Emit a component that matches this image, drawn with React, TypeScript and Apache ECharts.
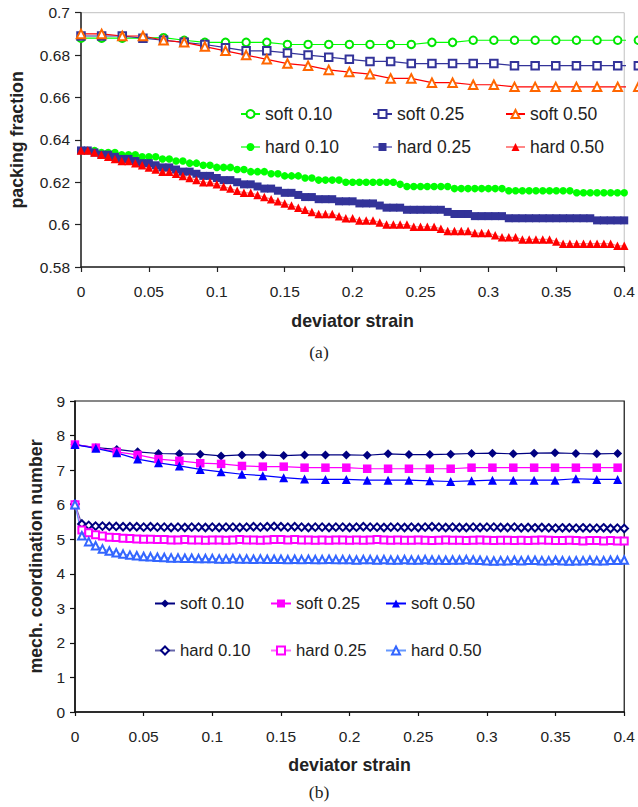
import React, { useEffect, useRef } from "react";
import * as echarts from "echarts";

// ---------- shared x grids ----------
const softX = [0, 0.0152, 0.0304, 0.0456, 0.0608, 0.076, 0.0912, 0.1064, 0.1216, 0.1368, 0.152, 0.1672, 0.1824, 0.1976, 0.2128, 0.228, 0.2432, 0.2584, 0.2736, 0.2888, 0.304, 0.3192, 0.3344, 0.3496, 0.3648, 0.38, 0.3952, 0.4104];
const hardX = [
  0, 0.005, 0.01, 0.015, 0.02, 0.025, 0.03, 0.035, 0.04, 0.045,
  0.05, 0.055, 0.06, 0.065, 0.07, 0.075, 0.08, 0.085, 0.09, 0.095,
  0.1, 0.105, 0.11, 0.115, 0.12, 0.125, 0.13, 0.135, 0.14, 0.145,
  0.15, 0.155, 0.16, 0.165, 0.17, 0.175, 0.18, 0.185, 0.19, 0.195,
  0.2, 0.205, 0.21, 0.215, 0.22, 0.225, 0.23, 0.235, 0.24, 0.245,
  0.25, 0.255, 0.26, 0.265, 0.27, 0.275, 0.28, 0.285, 0.29, 0.295,
  0.3, 0.305, 0.31, 0.315, 0.32, 0.325, 0.33, 0.335, 0.34, 0.345,
  0.35, 0.355, 0.36, 0.365, 0.37, 0.375, 0.38, 0.385, 0.39, 0.395,
  0.4,
];

// ---------- chart (a): packing fraction ----------
const soft10a = [0.688, 0.688, 0.688, 0.688, 0.6882, 0.687, 0.686, 0.686, 0.686, 0.686, 0.685, 0.685, 0.685, 0.685, 0.685, 0.685, 0.685, 0.686, 0.686, 0.687, 0.687, 0.687, 0.687, 0.687, 0.687, 0.687, 0.687, 0.687];
const soft25a = [0.689, 0.689, 0.689, 0.688, 0.687, 0.686, 0.685, 0.6835, 0.682, 0.682, 0.681, 0.68, 0.679, 0.678, 0.677, 0.677, 0.676, 0.676, 0.676, 0.676, 0.676, 0.675, 0.675, 0.675, 0.675, 0.675, 0.675, 0.675];
const soft50a = [0.69, 0.69, 0.689, 0.689, 0.687, 0.686, 0.684, 0.682, 0.68, 0.678, 0.676, 0.675, 0.673, 0.672, 0.671, 0.669, 0.669, 0.667, 0.667, 0.666, 0.666, 0.665, 0.665, 0.665, 0.665, 0.665, 0.665, 0.665];
const hard10a = [
  0.635, 0.635, 0.635, 0.634, 0.634, 0.634, 0.633, 0.633, 0.633, 0.632,
  0.632, 0.632, 0.631, 0.631, 0.63, 0.63, 0.629, 0.629, 0.628, 0.628,
  0.627, 0.627, 0.627, 0.626, 0.626, 0.625, 0.625, 0.625, 0.624, 0.624,
  0.623, 0.623, 0.623, 0.622, 0.622, 0.621, 0.621, 0.621, 0.621, 0.62,
  0.62, 0.62, 0.62, 0.62, 0.62, 0.62, 0.62, 0.619, 0.618, 0.618,
  0.618, 0.618, 0.618, 0.618, 0.618, 0.617, 0.617, 0.617, 0.617, 0.617,
  0.617, 0.617, 0.617, 0.616, 0.616, 0.616, 0.616, 0.616, 0.616, 0.616,
  0.616, 0.616, 0.616, 0.615, 0.615, 0.615, 0.615, 0.615, 0.615, 0.615,
  0.615,
];
const hard25a = [
  0.635, 0.635, 0.634, 0.633, 0.633, 0.632, 0.631, 0.631, 0.63, 0.629,
  0.629, 0.628, 0.627, 0.627, 0.626, 0.625, 0.625, 0.624, 0.623, 0.623,
  0.622, 0.621, 0.621, 0.62, 0.619, 0.619, 0.618, 0.617, 0.617, 0.616,
  0.615, 0.615, 0.614, 0.613, 0.613, 0.612, 0.612, 0.612, 0.611, 0.611,
  0.611, 0.61, 0.61, 0.61, 0.609, 0.608, 0.608, 0.608, 0.607, 0.607,
  0.607, 0.607, 0.607, 0.607, 0.606, 0.605, 0.605, 0.605, 0.604, 0.604,
  0.604, 0.604, 0.604, 0.603, 0.603, 0.603, 0.603, 0.603, 0.603, 0.603,
  0.603, 0.603, 0.603, 0.603, 0.603, 0.603, 0.602, 0.602, 0.602, 0.602,
  0.602,
];
const hard50a = [
  0.635, 0.635, 0.634, 0.633, 0.632, 0.631, 0.63, 0.63, 0.629, 0.628,
  0.627, 0.626, 0.625, 0.625, 0.624, 0.623, 0.622, 0.621, 0.62, 0.62,
  0.619, 0.618, 0.617, 0.616, 0.615, 0.615, 0.614, 0.613, 0.612, 0.611,
  0.61, 0.609, 0.608, 0.607, 0.606, 0.605, 0.605, 0.605, 0.604, 0.603,
  0.603, 0.602, 0.602, 0.602, 0.601, 0.6, 0.6, 0.6, 0.6, 0.599,
  0.599, 0.599, 0.599, 0.598, 0.597, 0.597, 0.597, 0.597, 0.596, 0.596,
  0.596, 0.595, 0.594, 0.594, 0.594, 0.593, 0.593, 0.593, 0.593, 0.593,
  0.592, 0.591, 0.591, 0.591, 0.591, 0.591, 0.591, 0.591, 0.591, 0.59,
  0.59,
];

// ---------- chart (b): mech. coordination number ----------
const soft10b = [7.74, 7.65, 7.6, 7.53, 7.48, 7.47, 7.46, 7.41, 7.44, 7.44, 7.42, 7.44, 7.44, 7.44, 7.43, 7.47, 7.45, 7.45, 7.46, 7.48, 7.49, 7.47, 7.49, 7.5, 7.48, 7.47, 7.48];
const soft25b = [7.74, 7.65, 7.53, 7.44, 7.32, 7.27, 7.2, 7.18, 7.12, 7.1, 7.1, 7.07, 7.07, 7.07, 7.04, 7.04, 7.04, 7.04, 7.04, 7.07, 7.07, 7.07, 7.07, 7.07, 7.07, 7.07, 7.07];
const soft50b = [7.74, 7.63, 7.5, 7.32, 7.21, 7.12, 7.02, 6.95, 6.88, 6.84, 6.78, 6.74, 6.73, 6.73, 6.71, 6.71, 6.71, 6.69, 6.67, 6.69, 6.71, 6.71, 6.71, 6.71, 6.75, 6.73, 6.73];
const hard10b = [
  6.02, 5.44, 5.4, 5.38, 5.38, 5.37, 5.37, 5.36, 5.36, 5.36,
  5.35, 5.36, 5.35, 5.35, 5.34, 5.35, 5.34, 5.35, 5.35, 5.34,
  5.35, 5.34, 5.35, 5.35, 5.34, 5.35, 5.36, 5.35, 5.36, 5.37,
  5.36, 5.35, 5.36, 5.35, 5.34, 5.35, 5.35, 5.34, 5.35, 5.35,
  5.34, 5.35, 5.36, 5.35, 5.35, 5.34, 5.35, 5.35, 5.34, 5.35,
  5.34, 5.35, 5.36, 5.35, 5.34, 5.35, 5.34, 5.34, 5.35, 5.34,
  5.35, 5.35, 5.34, 5.34, 5.35, 5.33, 5.34, 5.33, 5.34, 5.33,
  5.32, 5.33, 5.33, 5.32, 5.33, 5.32, 5.32, 5.33, 5.31, 5.32,
  5.31,
];
const hard25b = [
  6.0, 5.27, 5.19, 5.13, 5.09, 5.06, 5.05, 5.03, 5.02, 5.01,
  5.0, 5.0, 4.99, 4.99, 4.98, 4.98, 4.99, 4.98, 4.98, 4.97,
  4.98, 4.98, 4.97, 4.98, 4.99, 4.98, 4.98, 4.97, 4.98, 4.99,
  4.99, 4.98, 4.99, 4.98, 4.98, 4.97, 4.98, 4.97, 4.98, 4.98,
  4.97, 4.98, 4.97, 4.98, 4.99, 4.98, 4.97, 4.98, 4.97, 4.97,
  4.98, 4.97, 4.96, 4.97, 4.98, 4.97, 4.97, 4.96, 4.97, 4.98,
  4.97, 4.96, 4.97, 4.97, 4.96, 4.97, 4.96, 4.97, 4.98, 4.97,
  4.96, 4.96, 4.97, 4.96, 4.95, 4.96, 4.96, 4.95, 4.96, 4.95,
  4.95,
];
const hard50b = [
  6.0, 5.1, 4.93, 4.81, 4.72, 4.66, 4.61, 4.57, 4.54, 4.52,
  4.5, 4.49, 4.48, 4.47, 4.46, 4.46, 4.45, 4.45, 4.44, 4.44,
  4.44, 4.43, 4.43, 4.44, 4.43, 4.43, 4.42, 4.43, 4.42, 4.42,
  4.42, 4.41, 4.42, 4.41, 4.42, 4.41, 4.41, 4.42, 4.41, 4.41,
  4.41, 4.4, 4.41, 4.41, 4.4, 4.41, 4.4, 4.4, 4.41, 4.4,
  4.4, 4.41, 4.4, 4.4, 4.39, 4.4, 4.4, 4.41, 4.4, 4.39,
  4.38, 4.37, 4.38, 4.38, 4.39, 4.38, 4.39, 4.39, 4.38, 4.38,
  4.39, 4.38, 4.37, 4.38, 4.38, 4.39, 4.38, 4.38, 4.39, 4.39,
  4.4,
];

const FONT = "Liberation Sans, Arial, sans-serif";
const xTicks = (v: number) => String(Math.round(v * 100) / 100);

type SerCfg = {
  name: string;
  xs: number[];
  ys: number[];
  symbol: string;
  size: number;
  line: string;
  mark: string;
  lineWidth?: number;
};

function mkSeries(c: SerCfg) {
  const n = Math.min(c.xs.length, c.ys.length);
  const data: number[][] = [];
  for (let i = 0; i < n; i++) data.push([c.xs[i], c.ys[i]]);
  const empty = c.symbol.startsWith("empty");
  return {
    type: "line",
    name: c.name,
    data,
    symbol: c.symbol,
    symbolSize: c.size,
    showAllSymbol: true,
    clip: false,
    lineStyle: { color: c.line, width: c.lineWidth ?? 1.2 },
    itemStyle: empty
      ? { color: c.mark, borderColor: c.mark, borderWidth: 1 }
      : { color: c.mark, borderColor: c.mark, borderWidth: 0 },
    emphasis: { disabled: true },
  };
}

function mkLegend(name: string, left: number, top: number, w: number, fs: number) {
  return {
    data: [name],
    left,
    top,
    padding: 0,
    itemWidth: w,
    itemHeight: 10,
    itemGap: 0,
    selectedMode: false,
    textStyle: { fontSize: fs, color: "#222", fontFamily: FONT, padding: [0, 0, 0, 0] },
  };
}

const axisText = { fontSize: 15.5, color: "#222", fontFamily: FONT };
const nameText = { fontSize: 17.8, color: "#222", fontFamily: FONT, fontWeight: "bold" as const };

function optionA() {
  const series = [
    mkSeries({ name: "soft 0.10", xs: softX, ys: soft10a, symbol: "emptyCircle", size: 7.5, line: "#00ff00", mark: "#00e600" }),
    mkSeries({ name: "soft 0.25", xs: softX, ys: soft25a, symbol: "emptyRect", size: 7.5, line: "#333399", mark: "#333399" }),
    mkSeries({ name: "soft 0.50", xs: softX, ys: soft50a, symbol: "emptyTriangle", size: 8.5, line: "#ff0000", mark: "#ff6600" }),
    mkSeries({ name: "hard 0.10", xs: hardX, ys: hard10a, symbol: "circle", size: 7.5, line: "#66ff66", mark: "#00ff00" }),
    mkSeries({ name: "hard 0.25", xs: hardX, ys: hard25a, symbol: "rect", size: 8, line: "#8888cc", mark: "#333399" }),
    mkSeries({ name: "hard 0.50", xs: hardX, ys: hard50a, symbol: "triangle", size: 8.5, line: "#ff8888", mark: "#ff0000" }),
  ];
  return {
    animation: false,
    backgroundColor: "#fff",
    grid: { left: 79, top: 12.7, width: 546, height: 254.3, show: true, borderColor: "#c0c0c0", borderWidth: 1 },
    xAxis: {
      type: "value", min: 0, max: 0.4, interval: 0.05,
      axisLine: { show: true, onZero: false, lineStyle: { color: "#222", width: 1.5 } },
      axisTick: { show: true, length: 5, lineStyle: { color: "#222", width: 1.2 } },
      axisLabel: { ...axisText, margin: 16, formatter: xTicks },
      splitLine: { show: false },
      name: "deviator strain", nameLocation: "middle", nameGap: 45, nameTextStyle: nameText,
    },
    yAxis: {
      type: "value", min: 0.58, max: 0.7, interval: 0.02,
      axisLine: { show: true, onZero: false, lineStyle: { color: "#222", width: 1.5 } },
      axisTick: { show: true, length: 6, lineStyle: { color: "#222", width: 1.2 } },
      axisLabel: { ...axisText, margin: 11, formatter: xTicks },
      splitLine: { show: false },
      name: "packing fraction", nameLocation: "middle", nameGap: 55, nameTextStyle: nameText,
    },
    legend: [
      mkLegend("soft 0.10", 240, 105, 19, 17.5),
      mkLegend("soft 0.25", 372, 105, 19, 17.5),
      mkLegend("soft 0.50", 505, 105, 19, 17.5),
      mkLegend("hard 0.10", 240, 138, 19, 17.5),
      mkLegend("hard 0.25", 372, 138, 19, 17.5),
      mkLegend("hard 0.50", 505, 138, 19, 17.5),
    ],
    graphic: [
      { type: "text", left: "center", top: 343, style: { text: "(a)", fontSize: 17.5, fontFamily: "Liberation Serif, serif", fill: "#222" } },
    ],
    series,
  };
}

function optionB() {
  const series = [
    mkSeries({ name: "soft 0.10", xs: softX, ys: soft10b, symbol: "diamond", size: 9, line: "#000080", mark: "#000080" }),
    mkSeries({ name: "soft 0.25", xs: softX, ys: soft25b, symbol: "rect", size: 8.5, line: "#ff00ff", mark: "#ff00ff" }),
    mkSeries({ name: "soft 0.50", xs: softX, ys: soft50b, symbol: "triangle", size: 9, line: "#0000ff", mark: "#0000ff" }),
    mkSeries({ name: "hard 0.10", xs: hardX, ys: hard10b, symbol: "emptyDiamond", size: 7.5, line: "#6666aa", mark: "#000080" }),
    mkSeries({ name: "hard 0.25", xs: hardX, ys: hard25b, symbol: "emptyRect", size: 7, line: "#ff66ff", mark: "#ff00ff" }),
    mkSeries({ name: "hard 0.50", xs: hardX, ys: hard50b, symbol: "emptyTriangle", size: 7.5, line: "#6699ff", mark: "#3366ff" }),
  ];
  return {
    animation: false,
    backgroundColor: "#fff",
    grid: { left: 75, top: 29, width: 554, height: 311, show: true, borderColor: "#111", borderWidth: 1.2 },
    xAxis: {
      type: "value", min: 0, max: 0.4, interval: 0.05,
      axisLine: { show: true, onZero: false, lineStyle: { color: "#111", width: 1.5 } },
      axisTick: { show: true, length: 4, lineStyle: { color: "#111", width: 1.2 } },
      axisLabel: { ...axisText, margin: 16, formatter: xTicks },
      splitLine: { show: false },
      name: "deviator strain", nameLocation: "middle", nameGap: 44, nameTextStyle: nameText,
    },
    yAxis: {
      type: "value", min: 0, max: 9, interval: 1,
      axisLine: { show: true, onZero: false, lineStyle: { color: "#111", width: 1.5 } },
      axisTick: { show: true, length: 5, lineStyle: { color: "#111", width: 1.2 } },
      axisLabel: { ...axisText, margin: 10 },
      splitLine: { show: false },
      name: "mech. coordination number", nameLocation: "middle", nameGap: 29, nameTextStyle: nameText,
    },
    legend: [
      mkLegend("soft 0.10", 154, 223, 20, 16.7),
      mkLegend("soft 0.25", 270, 223, 20, 16.7),
      mkLegend("soft 0.50", 385, 223, 20, 16.7),
      mkLegend("hard 0.10", 154, 270, 20, 16.7),
      mkLegend("hard 0.25", 270, 270, 20, 16.7),
      mkLegend("hard 0.50", 385, 270, 20, 16.7),
    ],
    graphic: [
      { type: "text", left: "center", top: 411, style: { text: "(b)", fontSize: 17.5, fontFamily: "Liberation Serif, serif", fill: "#222" } },
    ],
    series,
  };
}

function Chart({ top, height, option }: { top: number; height: number; option: () => any }) {
  const ref = useRef<HTMLDivElement>(null);
  useEffect(() => {
    if (!ref.current) return;
    const chart = echarts.init(ref.current, undefined, { renderer: "svg" });
    chart.setOption(option());
    return () => chart.dispose();
  }, []);
  return <div ref={ref} style={{ position: "absolute", left: 0, top, width: 638, height }} />;
}

export default function App() {
  return (
    <div style={{ position: "absolute", left: 0, top: 0, width: 638, height: 807, background: "#fff" }}>
      <Chart top={0} height={372} option={optionA} />
      <Chart top={372} height={435} option={optionB} />
    </div>
  );
}
